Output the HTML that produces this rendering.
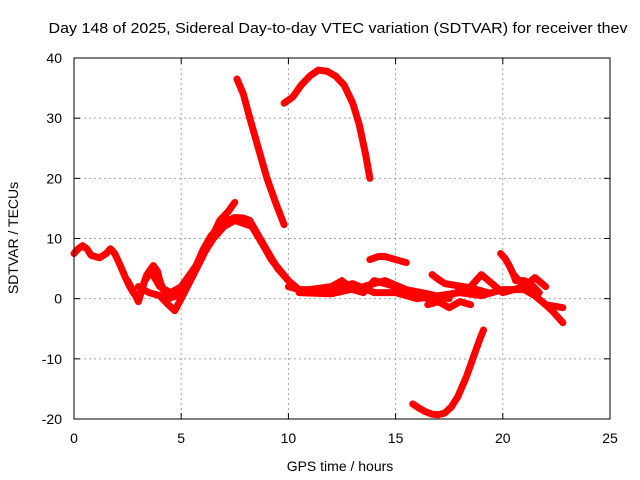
<!DOCTYPE html>
<html><head><meta charset="utf-8"><style>
body{margin:0;background:#fff}
svg{display:block;font-family:"Liberation Sans",sans-serif}
</style></head><body>
<svg id="chart" width="640" height="480">
<text x="338" y="33" text-anchor="middle" font-size="15" textLength="579" lengthAdjust="spacingAndGlyphs">Day 148 of 2025, Sidereal Day-to-day VTEC variation (SDTVAR) for receiver thev</text>
<g id="grid"></g>
<g id="series"></g>
<rect x="74" y="58" width="536" height="361" fill="none" stroke="#000"/>
<g id="ticks"></g>
<text x="340" y="471" text-anchor="middle" font-size="14">GPS time / hours</text>
<text transform="translate(18,238) rotate(-90)" text-anchor="middle" font-size="14">SDTVAR / TECUs</text>
</svg>
<script>
const xTicks=[0,5,10,15,20,25];
const yTicks=[-20,-10,0,10,20,30,40];
const trackMain=[[0,7.5],[0.2,8.3],[0.4,8.8],[0.6,8.3],[0.8,7.2],[1.2,6.8],[1.5,7.5],[1.7,8.3],[1.9,7.5],[2.1,6],[2.4,3.5],[2.6,2],[2.8,0.8],[3,0],[3.2,2],[3.4,4],[3.7,5.5],[3.9,4.5],[4,3],[4.2,1.2],[4.4,0],[4.8,0.5],[5.3,3],[5.7,5.5],[6,8],[6.4,10.5],[6.8,12],[7.2,13],[7.5,13.5],[7.9,13.4],[8.2,13],[8.6,10.5],[9,8],[9.5,5],[10,3],[10.5,1.5],[11,1.5]];
const trackUpper=[[3,2],[3.5,1],[4,0.5],[4.4,-1],[4.7,-2],[5,0],[5.5,3.5],[6,7],[6.4,10],[6.8,13],[7.2,14.5],[7.5,16]];
const trackLow=[[2.5,3],[2.8,1],[3,-0.5],[3.3,3],[3.6,4.5],[4,2],[4.5,1],[5,2],[5.6,5],[6.5,10],[7,12],[7.5,13],[8.3,12],[8.8,9],[9.2,6.5],[10,3]];
const trackB=[[7.6,36.5],[7.9,34],[8.2,30],[8.6,25],[9,20],[9.4,16],[9.8,12.3]];
const trackC=[[9.8,32.5],[10.2,33.5],[10.6,35.5],[11,37],[11.4,38],[11.8,37.8],[12.2,37],[12.6,35.5],[13,32.5],[13.3,29],[13.6,24],[13.8,20]];
const trackD=[[10,2],[11,1],[12,1.5],[13,2.5],[14,1],[15,1],[16,0],[17,0.5],[18,1],[19,0.5],[20,1.5],[21,1.5],[21.5,0.5],[22,-1],[22.3,-2],[22.8,-4]];
const trackE=[[11,1.5],[12,2],[12.5,3],[13,1.5],[13.5,1],[14,3],[15,2],[15.5,1],[16.5,0],[17.5,0.5],[18.5,2],[19,4],[19.5,2.5],[20,1],[21,2],[22,-1],[22.8,-1.5]];
const trackF=[[13.8,6.5],[14.2,7],[14.5,7],[15,6.5],[15.5,6]];
const trackG=[[16.7,4],[17,3.2],[17.3,2.5],[18.5,1.8],[19.3,1]];
const trackH=[[16.5,-1],[17,-0.5],[17.5,-1.5],[18,-0.5],[18.5,-1]];
const trackI=[[15.8,-17.5],[16.1,-18.2],[16.4,-18.8],[16.7,-19.2],[17,-19.3],[17.3,-19],[17.6,-18],[17.9,-16.3],[18.3,-13],[18.6,-10],[18.9,-7],[19.1,-5.2]];
const trackJ=[[19.9,7.5],[20.1,6.7],[20.3,5.5],[20.5,4],[20.6,3],[21,3],[21.3,2.5],[21.7,1]];
const trackK=[[20.5,4],[21,2],[21.5,3.5],[22,2]];
const trackL=[[10.5,1],[12,0.8],[13.5,2],[14.5,3],[15.5,1.5],[16.5,0.8],[17.5,0]];
const tracks=[trackMain,trackUpper,trackLow,trackB,trackC,trackD,trackE,trackF,trackG,trackH,trackI,trackJ,trackK,trackL];
const NS="http://www.w3.org/2000/svg";
const X=h=>74+h*536/25, Y=v=>58+(40-v)*361/60;
const grid=document.getElementById('grid'),ticks=document.getElementById('ticks'),ser=document.getElementById('series');
function mk(tag,at,p){const e=document.createElementNS(NS,tag);for(const k in at)e.setAttribute(k,at[k]);p.appendChild(e);return e;}
xTicks.forEach(t=>{
 const x=X(t);
 if(t>0&&t<25){const g=mk('line',{x1:x,x2:x,y1:58,y2:419,stroke:'#a0a0a0','stroke-dasharray':'2,3'},grid);
 
 }
 mk('line',{x1:x,x2:x,y1:419,y2:413,stroke:'#000'},ticks);mk('line',{x1:x,x2:x,y1:58,y2:64,stroke:'#000'},ticks);
 const l=mk('text',{x:x,y:443,'text-anchor':'middle','font-size':14},ticks);l.textContent=t;
 
 
});
yTicks.forEach(t=>{
 const y=Y(t);
 if(t>-20&&t<40){const g=mk('line',{x1:74,x2:610,y1:y,y2:y,stroke:'#a0a0a0','stroke-dasharray':'2,3'},grid);
 
 }
 mk('line',{x1:74,x2:80,y1:y,y2:y,stroke:'#000'},ticks);mk('line',{x1:610,x2:604,y1:y,y2:y,stroke:'#000'},ticks);
 const l=mk('text',{x:62,y:y+5,'text-anchor':'end','font-size':14},ticks);l.textContent=t;
 
 
});
tracks.forEach(tr=>{
 const p=mk('polyline',{points:tr.map(d=>X(d[0])+','+Y(d[1])).join(' '),fill:'none',stroke:'#ff0000','stroke-width':7,'stroke-linejoin':'round','stroke-linecap':'round'},ser);
 
 
});
</script>
</body></html>
